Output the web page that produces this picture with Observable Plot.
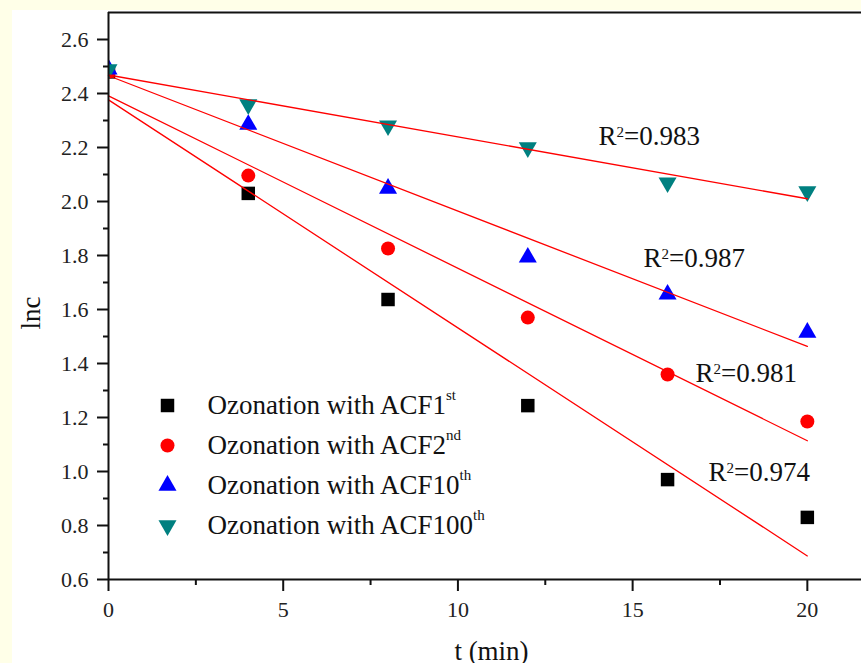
<!DOCTYPE html>
<html>
<head>
<meta charset="utf-8">
<script src="https://cdn.jsdelivr.net/npm/d3@7"></script>
<script src="https://cdn.jsdelivr.net/npm/@observablehq/plot@0.6"></script>
<style>
  html, body { margin: 0; padding: 0; background: #ffffe8; }
  #chart { position: absolute; left: 12px; top: 10px; width: 849px; height: 653px; background: #fff; overflow: hidden; }
</style>
</head>
<body>
<div id="chart"></div>
<script>
// Sampling times (min)
const times = [0, 4, 8, 12, 16, 20];

// ln(c) for each activated carbon fibre reuse cycle
const seriesNames = ["ACF1st", "ACF2nd", "ACF10th", "ACF100th"];
const lncACF1 = [2.48, 2.03, 1.637, 1.244, 0.970, 0.830];
const lncACF2 = [2.48, 2.096, 1.826, 1.570, 1.359, 1.185];
const lncACF10 = [2.49, 2.285, 2.048, 1.793, 1.656, 1.515];
const lncACF100 = [2.489, 2.359, 2.281, 2.200, 2.070, 2.037];

const legendLabels = [
  "Ozonation with ACF1^st",
  "Ozonation with ACF2^nd",
  "Ozonation with ACF10^th",
  "Ozonation with ACF100^th"
];
const seriesColors = ["#000000", "#ff0000", "#0000ff", "#008080"];

// Goodness-of-fit annotations for the pseudo-first-order fits
const r2Labels = ["R^2^=0.974", "R^2^=0.981", "R^2^=0.987", "R^2^=0.983"];
const r2T = [17.17, 16.8, 15.31, 14.02];
const r2Lnc = [0.996, 1.363, 1.789, 2.241];

// Axis ticks
const yMajor = [0.6, 0.8, 1.0, 1.2, 1.4, 1.6, 1.8, 2.0, 2.2, 2.4, 2.6];
const yMinor = [0.7, 0.9, 1.1, 1.3, 1.5, 1.7, 1.9, 2.1, 2.3, 2.5];
const xMajor = [0, 5, 10, 15, 20];
const xMinor = [2.5, 7.5, 12.5, 17.5];

const seriesValues = [lncACF1, lncACF2, lncACF10, lncACF100];
const rows = seriesNames.flatMap((series, s) =>
  times.map((t, i) => ({series, t, lnc: seriesValues[s][i]}))
);

// Downward-pointing triangle (mirror of d3.symbolTriangle)
const triangleDown = {
  draw(context, size) {
    const y = -Math.sqrt(size / (Math.sqrt(3) * 3));
    context.moveTo(0, -y * 2);
    context.lineTo(-Math.sqrt(3) * y, y);
    context.lineTo(Math.sqrt(3) * y, y);
    context.closePath();
  }
};
const symbols = [d3.symbolSquare, "circle", d3.symbolTriangle, triangleDown];
const radii = [7.6, 7, 6.7, 6.7];

const serif = '"Liberation Serif", "Times New Roman", serif';
const axisStyle = {stroke: "#111", fill: "#222", strokeWidth: 2, label: null, fontSize: 22, fontFamily: serif};

const marks = [];

// Data points, clipped to the plotting frame
seriesNames.forEach((name, s) => {
  marks.push(Plot.dot(rows.filter(d => d.series === name), {
    x: "t", y: "lnc", symbol: symbols[s], r: radii[s], fill: seriesColors[s], clip: "frame"
  }));
});

// Linear fits of ln(c) against t
marks.push(Plot.linearRegressionY(rows, {
  x: "t", y: "lnc", z: "series", stroke: "#ff0000", strokeWidth: 1.3, ci: 0
}));

// R² annotations
marks.push(Plot.text(r2Labels.map((label, i) => ({label, t: r2T[i], lnc: r2Lnc[i]})), {
  x: "t", y: "lnc", text: "label", textAnchor: "start", lineAnchor: "middle", fontSize: 27, fill: "#111"
}));

// Legend
legendLabels.forEach((label, i) => {
  marks.push(Plot.dot([label], {
    frameAnchor: "top-left", dx: 59, dy: 393 + 40 * i,
    symbol: symbols[i], r: radii[i], fill: seriesColors[i]
  }));
  marks.push(Plot.text([label], {
    frameAnchor: "top-left", dx: 99, dy: 393 + 40 * i,
    text: d => d, textAnchor: "start", lineAnchor: "middle", fontSize: 27, fill: "#111"
  }));
});

// Axes
marks.push(
  Plot.axisY(yMajor, {...axisStyle, tickSize: 11, tickPadding: 9, tickFormat: d3.format(".1f")}),
  Plot.axisY(yMinor, {...axisStyle, tickSize: 5, tickFormat: () => ""}),
  Plot.axisX(xMajor, {...axisStyle, tickSize: 12, tickPadding: 10, tickFormat: d3.format("d")}),
  Plot.axisX(xMinor, {...axisStyle, tickSize: 6, tickFormat: () => ""}),
  Plot.ruleX([0], {stroke: "#111", strokeWidth: 2}),
  Plot.ruleY([0.6], {stroke: "#111", strokeWidth: 2}),
  Plot.ruleY([2.7], {stroke: "#111", strokeWidth: 2})
);

// Axis titles
marks.push(
  Plot.text(["lnc"], {
    frameAnchor: "left", dx: -77, dy: 17, rotate: -90, text: d => d,
    textAnchor: "middle", lineAnchor: "middle", fontSize: 27, fill: "#111"
  }),
  Plot.text(["t (min)"], {
    frameAnchor: "bottom", dx: 6.5, dy: 72, text: d => d,
    textAnchor: "middle", lineAnchor: "middle", fontSize: 27, fill: "#111"
  })
);

const chart = Plot.plot({
  width: 849,
  height: 653,
  marginLeft: 96,
  marginRight: 0,
  marginTop: 2,
  marginBottom: 84,
  x: {domain: [0, 21.55], label: null},
  y: {domain: [0.6, 2.7], label: null},
  style: {fontFamily: serif, fontSize: "22px", background: "white", color: "#111", overflow: "hidden"},
  marks
});

// Turn "^...^" segments into superscripts
d3.select(chart).selectAll("text").each(function () {
  const parts = this.textContent.split("^");
  if (parts.length < 2) return;
  const rise = parts[0] === "R" ? 8 : 14;
  const el = d3.select(this).text(null);
  parts.forEach((p, i) => {
    if (!p) return;
    const sup = i % 2 === 1;
    el.append("tspan")
      .attr("font-size", sup ? 15 : null)
      .attr("dy", sup ? -rise : (i > 0 ? rise : null))
      .text(p);
  });
});

document.getElementById("chart").appendChild(chart);
</script>
</body>
</html>
